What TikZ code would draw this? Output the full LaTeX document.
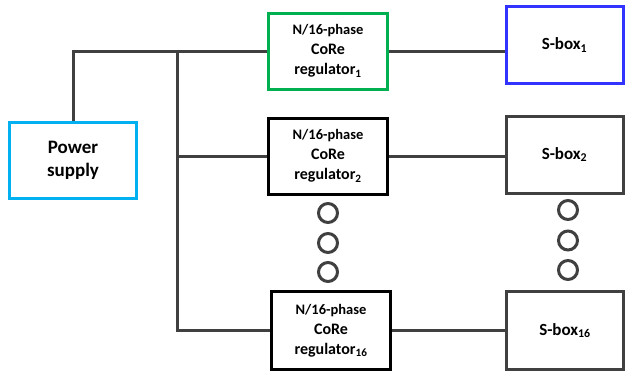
\documentclass[tikz,border=0pt]{standalone}
\usepackage{fontspec}
\setmainfont{Carlito}
\definecolor{wire}{RGB}{64,64,64}
\definecolor{psblue}{RGB}{0,176,240}
\definecolor{regreen}{RGB}{0,176,80}
\definecolor{sbblue}{RGB}{51,51,255}
\tikzset{
  block/.style={draw, line width=3pt, fill=white, align=center, inner sep=0pt},
  regbox/.style={block, minimum width=119pt, minimum height=76pt,
                 font=\bfseries\fontsize{16}{20}\selectfont},
  sbox/.style={block, draw=wire, minimum width=117pt, minimum height=77pt,
               font=\bfseries\fontsize{17}{20}\selectfont},
  link/.style={draw=wire, line width=3pt},
  dot/.style={circle, draw=wire, line width=3pt, minimum size=19pt, inner sep=0pt}
}
\newcommand{\regtext}[1]{{\fontsize{14.5}{20}\selectfont N/16-phase}\\
  CoRe\\
  regulator\textsubscript{#1}}
\begin{document}
\begin{tikzpicture}[x=1pt, y=-1pt]
\useasboundingbox (0,0) rectangle (625,375);

% power supply
\node[block, draw=psblue, minimum width=127pt, minimum height=76pt,
      font=\bfseries\fontsize{19}{23}\selectfont] (ps) at (73,160.5) {Power\\supply};

% regulators
\node[regbox, draw=regreen] (r1) at (328,51) {\regtext{1}};
\node[regbox, draw=black] (r2) at (328,156) {\regtext{2}};
\node[regbox, draw=black, minimum height=78pt] (r16) at (331,330.5) {\regtext{16}};

% S-boxes
\node[sbox, draw=sbblue] (s1) at (564.5,45) {S-box\textsubscript{1}};
\node[sbox] (s2) at (564.5,154.5) {S-box\textsubscript{2}};
\node[sbox, minimum height=78pt] (s16) at (565,330.5) {S-box\textsubscript{16}};

% ellipsis dots
\node[dot] (l1) at (328,213) {};
\node[dot] (l2) at (328,243) {};
\node[dot] (l3) at (328,272) {};
\node[dot] (k1) at (568,210) {};
\node[dot] (k2) at (568,240.5) {};
\node[dot] (k3) at (568,270) {};

% supply wiring
\coordinate (top) at (73,51);
\coordinate (j) at (177,51);
\path[link] (ps.north) -- (top) -- (r1.west);
\path[link] (j) |- (r2.west);
\path[link] (j) |- (r16.west);

% regulator to S-box links
\path[link] (r1.east) -- (r1.east -| s1.west);
\path[link] (r2.east) -- (r2.east -| s2.west);
\path[link] (r16.east) -- (r16.east -| s16.west);
\end{tikzpicture}
\end{document}
